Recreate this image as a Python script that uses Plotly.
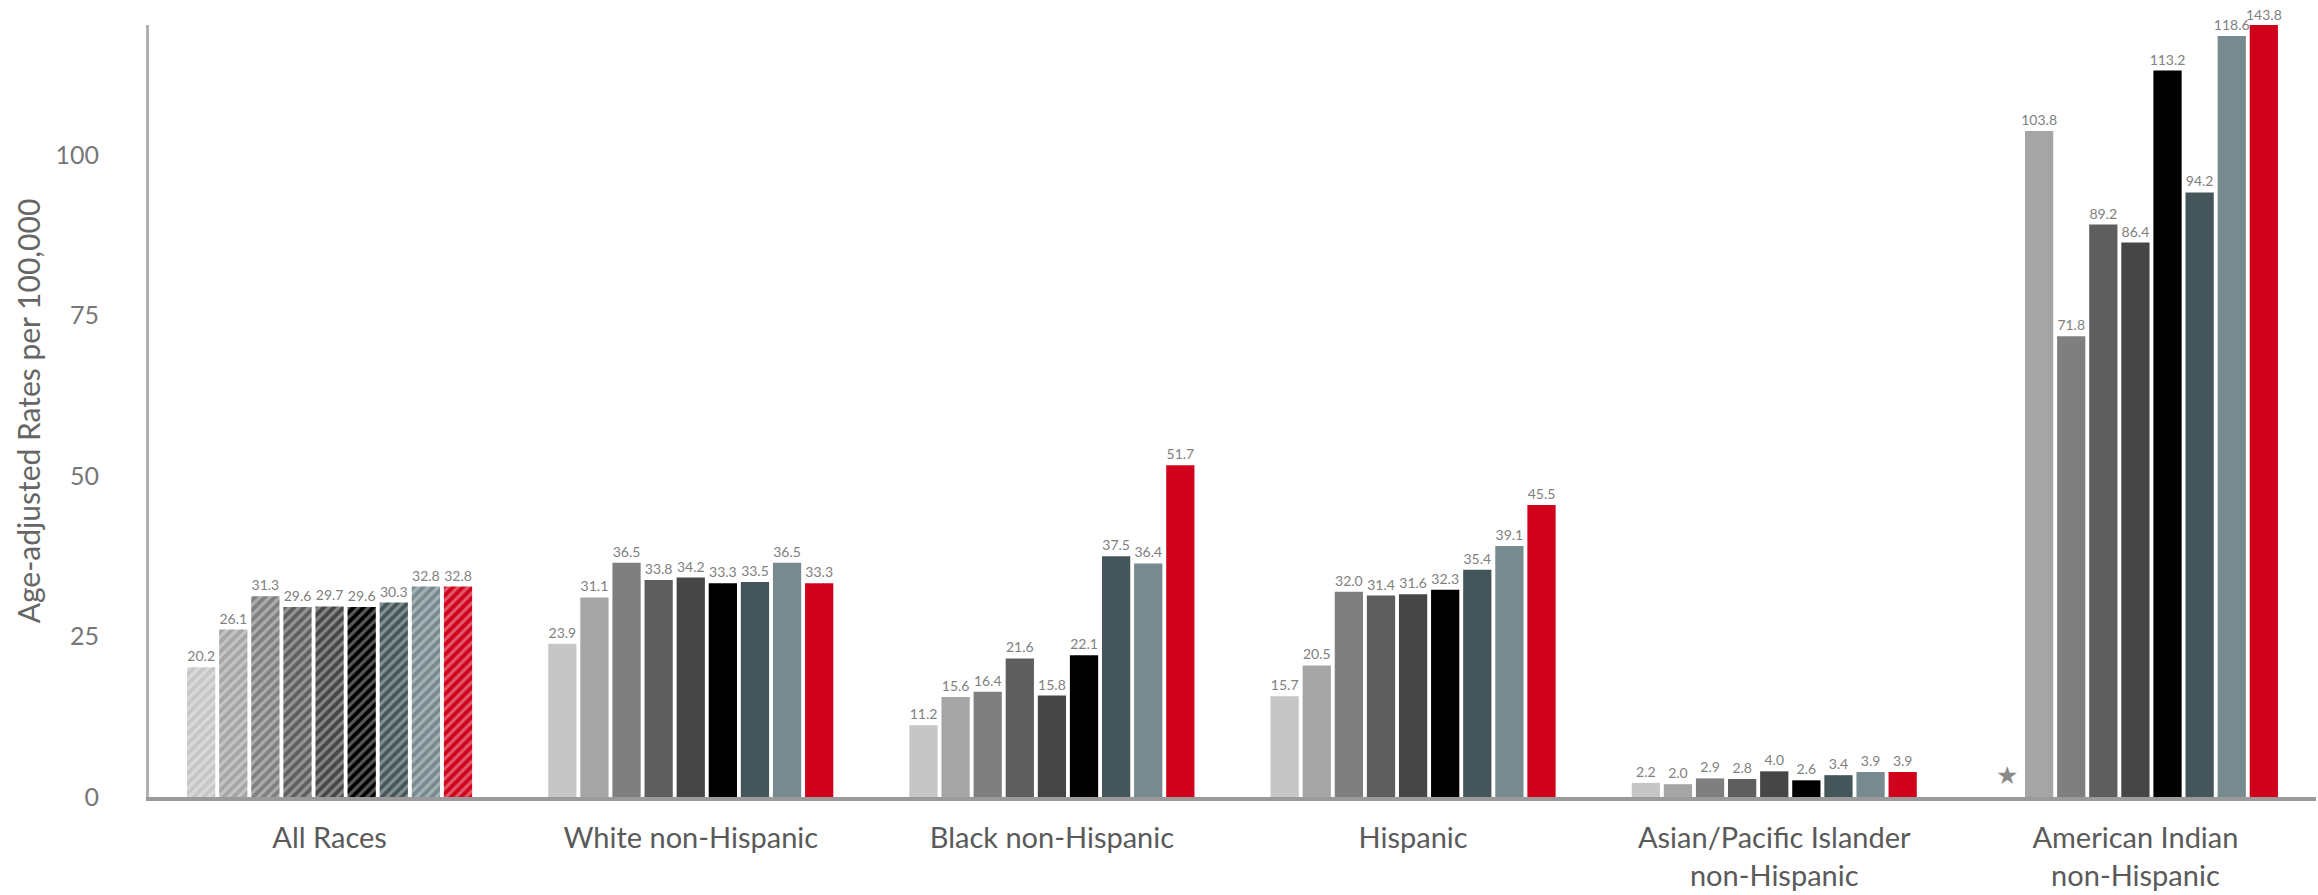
import plotly.graph_objects as go

# Groups along the x axis
GROUPS = [
    "All Races",
    "White non-Hispanic",
    "Black non-Hispanic",
    "Hispanic",
    "Asian/Pacific Islander<br>non-Hispanic",
    "American Indian<br>non-Hispanic",
]

# Nine periods, one bar each per group (None = not reported)
SERIES = [f"Period {i}" for i in range(1, 10)]
P1 = [20.2, 23.9, 11.2, 15.7, 2.2, None]
P2 = [26.1, 31.1, 15.6, 20.5, 2.0, 103.8]
P3 = [31.3, 36.5, 16.4, 32.0, 2.9, 71.8]
P4 = [29.6, 33.8, 21.6, 31.4, 2.8, 89.2]
P5 = [29.7, 34.2, 15.8, 31.6, 4.0, 86.4]
P6 = [29.6, 33.3, 22.1, 32.3, 2.6, 113.2]
P7 = [30.3, 33.5, 37.5, 35.4, 3.4, 94.2]
P8 = [32.8, 36.5, 36.4, 39.1, 3.9, 118.6]
P9 = [32.8, 33.3, 51.7, 45.5, 3.9, 143.8]
VALUES = [P1, P2, P3, P4, P5, P6, P7, P8, P9]

COLORS = ["#c6c6c6", "#a5a5a5", "#7f7f7f", "#5e5e5e", "#464646",
          "#000000", "#45565a", "#778a8f", "#d0021b"]

Y_TICKS = [0, 25, 50, 75, 100]
Y_MAX = 120.3
BARGAP = 0.2
LABEL_FONT = dict(family="Lato", size=14, color="#808080")

x_pos = list(range(len(GROUPS)))
n = len(SERIES)
fig = go.Figure()

for i, (name, vals, col) in enumerate(zip(SERIES, VALUES, COLORS)):
    texts = []
    for v in vals:
        if v is None or v > Y_MAX:
            texts.append("")
        else:
            texts.append(f"{v:.1f}")
    fig.add_trace(go.Bar(
        name=name, x=x_pos, y=vals,
        marker=dict(
            color=col, line=dict(width=0),
            pattern=dict(
                shape=["/"] + [""] * (len(GROUPS) - 1),
                fillmode="overlay",
                fgcolor="rgba(255,255,255,0.7)",
                size=7, solidity=0.45,
            ),
        ),
        text=texts, textposition="outside", textfont=LABEL_FONT,
        constraintext="none", cliponaxis=False,
        hoverinfo="x+y+name",
    ))

# slot centre offset within a group for series i
def slot_offset(i):
    w = (1 - BARGAP) / n
    return -(1 - BARGAP) / 2 + w * (i + 0.5)

annotations = []
for i, vals in enumerate(VALUES):
    for g, v in enumerate(vals):
        if v is not None and v > Y_MAX:
            annotations.append(dict(
                x=g + slot_offset(i), y=Y_MAX, xref="x", yref="y",
                text=f"{v:.1f}", showarrow=False, yanchor="bottom",
                font=LABEL_FONT,
            ))
        if v is None:
            annotations.append(dict(
                x=g + slot_offset(i), y=0, xref="x", yref="y",
                text="★", showarrow=False, yanchor="bottom", yshift=5,
                font=dict(family="DejaVu Sans", size=25, color="#8a8a8a"),
            ))

fig.update_layout(
    width=2318, height=895,
    margin=dict(l=149, r=2, t=25, b=98),
    paper_bgcolor="white", plot_bgcolor="white",
    barmode="group", bargap=BARGAP, bargroupgap=0.12,
    showlegend=False,
    font=dict(family="Lato", color="#666666"),
    annotations=annotations,
)
fig.update_xaxes(
    range=[-0.5, len(GROUPS) - 0.5],
    tickvals=x_pos, ticktext=GROUPS,
    tickfont=dict(family="Lato", size=29, color="#5a5a5a"),
    showline=True, linecolor="#9a9a9a", linewidth=4,
    showgrid=False, zeroline=False, ticks="", ticklabelstandoff=12,
)
fig.update_yaxes(
    range=[0, Y_MAX], tickvals=Y_TICKS,
    tickfont=dict(family="Lato", size=25, color="#777777"),
    showline=True, linecolor="#b0b0b0", linewidth=3,
    showgrid=False, zeroline=False, ticks="", ticklabelstandoff=42,
    title=dict(text="Age-adjusted Rates per 100,000",
               font=dict(family="Lato", size=30, color="#666666"),
               standoff=6),
)

fig.write_html("out.html")
